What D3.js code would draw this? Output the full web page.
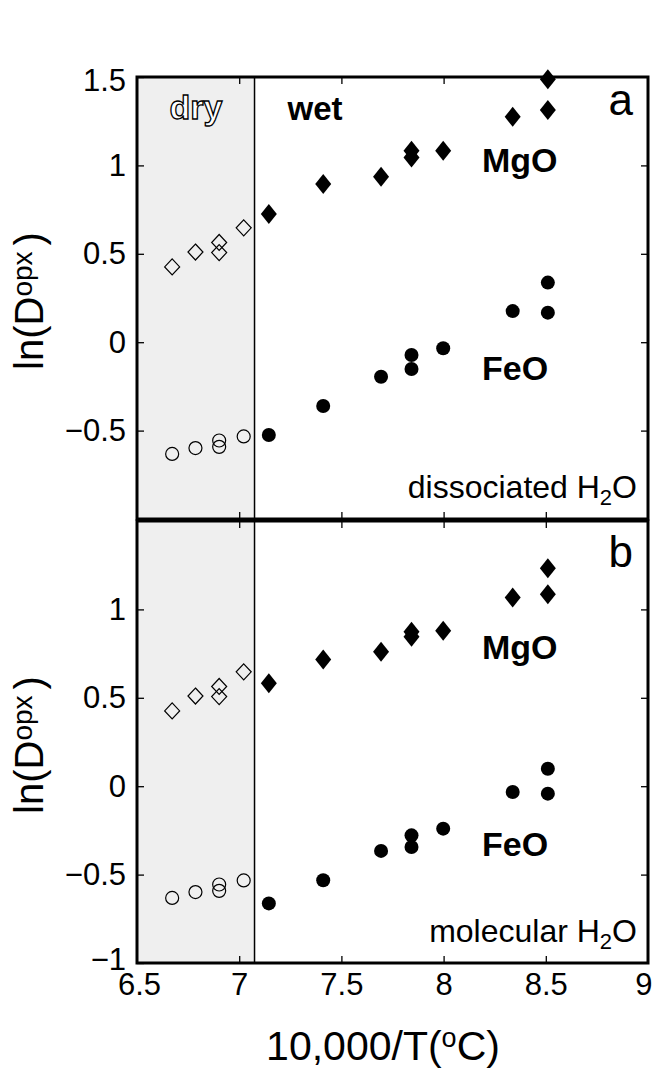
<!DOCTYPE html>
<html>
<head>
<meta charset="utf-8">
<script src="https://cdn.jsdelivr.net/npm/d3@7"></script>
<style>
  html, body { margin: 0; padding: 0; background: #fff; }
  svg { display: block; font-family: "Liberation Sans", Arial, Helvetica, sans-serif; }
</style>
</head>
<body>
<svg id="chart" width="652" height="1068"></svg>
<script>
// ---- data: ln(D_opx) against 10,000/T ----
// dry runs (open symbols), same in both panels
const dryX      = [6.672, 6.786, 6.902, 6.902, 7.022];
const dryMgO    = [0.426, 0.510, 0.564, 0.507, 0.647];
const dryFeO    = [-0.632, -0.599, -0.556, -0.592, -0.533];

// wet runs (filled symbols)
const wetX      = [7.145, 7.411, 7.694, 7.843, 7.843, 7.998, 8.338, 8.510, 8.510];
// panel a: dissociated H2O
const wetMgO_a  = [0.725, 0.895, 0.936, 1.083, 1.045, 1.083, 1.275, 1.313, 1.487];
const wetFeO_a  = [-0.525, -0.361, -0.195, -0.072, -0.152, -0.034, 0.176, 0.167, 0.337];
// panel b: molecular H2O
const wetMgO_b  = [0.582, 0.716, 0.761, 0.874, 0.846, 0.879, 1.067, 1.086, 1.233];
const wetFeO_b  = [-0.663, -0.532, -0.366, -0.278, -0.344, -0.240, -0.033, -0.042, 0.099];

const dryWetBoundary = 7.075;
const xTicks = [6.5, 7, 7.5, 8, 8.5, 9];
const yTicksA = [-0.5, 0, 0.5, 1, 1.5];
const yTicksB = [-1, -0.5, 0, 0.5, 1];
const yInner  = [-0.5, 0, 0.5, 1];

// ---- layout ----
const svg = d3.select("#chart");
const left = 137, right = 648;
const x = d3.scaleLinear().domain([6.5, 9]).range([left, right]);

const panels = [
  { top: 77,  bottom: 519, mgo: wetMgO_a, feo: wetFeO_a, yTicks: yTicksA,
    tag: "a", tagY: 115, note: "dissociated", noteY: 498, mgoAt: 0.963, feoAt: -0.214 },
  { top: 521, bottom: 963, mgo: wetMgO_b, feo: wetFeO_b, yTicks: yTicksB,
    tag: "b", tagY: 567, note: "molecular", noteY: 942, mgoAt: 0.721, feoAt: -0.396 }
];

const diamond = (w, h) => `M0,${-h/2}L${w/2},0L0,${h/2}L${-w/2},0Z`;
const tickFont = 31;

panels.forEach((p, i) => {
  const y = d3.scaleLinear().domain([-1, 1.5]).range([p.bottom, p.top]);
  const g = svg.append("g");

  // shaded dry region and its boundary
  g.append("rect")
    .attr("x", x(6.5)).attr("y", p.top)
    .attr("width", x(dryWetBoundary) - x(6.5)).attr("height", p.bottom - p.top)
    .attr("fill", "#efefef");
  g.append("line")
    .attr("x1", x(dryWetBoundary)).attr("x2", x(dryWetBoundary))
    .attr("y1", p.top).attr("y2", p.bottom)
    .attr("stroke", "#000").attr("stroke-width", 1.5);

  // axes with inward ticks
  const tick = 7;
  const leftAxis = g.append("g").attr("transform", `translate(${left},0)`)
    .call(d3.axisLeft(y).tickValues(p.yTicks).tickSizeInner(-tick).tickSizeOuter(0)
      .tickPadding(11).tickFormat(d3.format("")));
  g.append("g").attr("transform", `translate(${right},0)`)
    .call(d3.axisRight(y).tickValues(yInner).tickSizeInner(-tick).tickSizeOuter(0).tickFormat(""));
  g.append("g").attr("transform", `translate(0,${p.top})`)
    .call(d3.axisTop(x).tickValues([7, 7.5, 8, 8.5]).tickSizeInner(-tick).tickSizeOuter(0).tickFormat(""));
  const bottomAxis = g.append("g").attr("transform", `translate(0,${p.bottom})`)
    .call(d3.axisBottom(x).tickValues(i === 1 ? xTicks : [7, 7.5, 8, 8.5])
      .tickSizeInner(-tick).tickSizeOuter(0).tickPadding(10)
      .tickFormat(i === 1 ? d3.format("") : ""));
  g.selectAll(".domain").remove();
  g.selectAll(".tick line").attr("stroke", "#000").attr("stroke-width", 1.3);
  g.selectAll(".tick").filter(d => d === 6.5 || d === 9).select("line").remove();
  [leftAxis, bottomAxis].forEach(a => a.selectAll("text")
    .attr("font-size", tickFont).attr("fill", "#000")
    .attr("font-family", "Liberation Sans, Arial, sans-serif"));
  leftAxis.selectAll(".tick").filter(d => d === 1.5).select("text").attr("dy", "0.45em");
  // corner labels: nudge so they stay clear of each other and the page edge
  leftAxis.selectAll(".tick").filter(d => d === -1).select("text").attr("dy", "0.22em");
  bottomAxis.selectAll(".tick").filter(d => d === 6.5).select("text").attr("x", 2);
  bottomAxis.selectAll(".tick").filter(d => d === 9).select("text")
    .attr("text-anchor", "end").attr("x", 4);

  // dry data: open symbols
  g.selectAll(".dryMgO").data(dryX.map((v, k) => [v, dryMgO[k]])).join("path")
    .attr("d", diamond(15, 16))
    .attr("transform", d => `translate(${x(d[0])},${y(d[1])})`)
    .attr("fill", "none").attr("stroke", "#000").attr("stroke-width", 1.2);
  g.selectAll(".dryFeO").data(dryX.map((v, k) => [v, dryFeO[k]])).join("circle")
    .attr("cx", d => x(d[0])).attr("cy", d => y(d[1])).attr("r", 6.5)
    .attr("fill", "none").attr("stroke", "#000").attr("stroke-width", 1.2);

  // wet data: filled symbols
  g.selectAll(".wetMgO").data(wetX.map((v, k) => [v, p.mgo[k]])).join("path")
    .attr("d", diamond(16, 20))
    .attr("transform", d => `translate(${x(d[0])},${y(d[1])})`)
    .attr("fill", "#000");
  g.selectAll(".wetFeO").data(wetX.map((v, k) => [v, p.feo[k]])).join("circle")
    .attr("cx", d => x(d[0])).attr("cy", d => y(d[1])).attr("r", 7)
    .attr("fill", "#000");

  // frame
  g.append("rect")
    .attr("x", left).attr("y", p.top)
    .attr("width", right - left).attr("height", p.bottom - p.top)
    .attr("fill", "none").attr("stroke", "#000").attr("stroke-width", 3);

  // labels
  g.append("text").attr("x", x(8.188)).attr("y", y(p.mgoAt))
    .attr("font-size", 34).attr("font-weight", "bold").text("MgO");
  g.append("text").attr("x", x(8.188)).attr("y", y(p.feoAt))
    .attr("font-size", 34).attr("font-weight", "bold").text("FeO");
  g.append("text").attr("x", 633).attr("y", p.tagY).attr("text-anchor", "end")
    .attr("font-size", 44).text(p.tag);
  const note = g.append("text").attr("x", 637).attr("y", p.noteY).attr("text-anchor", "end")
    .attr("font-size", 32);
  note.append("tspan").text(p.note + " H");
  note.append("tspan").attr("font-size", 22).attr("dy", 7).text("2");
  note.append("tspan").attr("dy", -7).text("O");

  // y title
  const yt = svg.append("text")
    .attr("transform", `translate(43,${(p.top + p.bottom) / 2 + 3}) rotate(-90)`)
    .attr("text-anchor", "middle").attr("font-size", 40);
  yt.append("tspan").text("ln(D");
  yt.append("tspan").attr("font-size", 28).attr("dy", -11).text("opx");
  yt.append("tspan").attr("dy", 11).attr("dx", 6).text(")");
});

// dry / wet headers
svg.append("text").attr("x", 196).attr("y", 119).attr("text-anchor", "middle")
  .attr("font-size", 34).attr("font-weight", "bold")
  .attr("fill", "#fff").attr("stroke", "#000").attr("stroke-width", 1.3)
  .text("dry");
svg.append("text").attr("x", 315).attr("y", 120).attr("text-anchor", "middle")
  .attr("font-size", 33).attr("font-weight", "bold").text("wet");

// x title
const xt = svg.append("text").attr("x", 383).attr("y", 1060)
  .attr("text-anchor", "middle").attr("font-size", 41);
xt.append("tspan").text("10,000/T(");
xt.append("tspan").attr("font-size", 27).attr("dy", -13).text("o");
xt.append("tspan").attr("dy", 13).text("C)");
</script>
</body>
</html>
